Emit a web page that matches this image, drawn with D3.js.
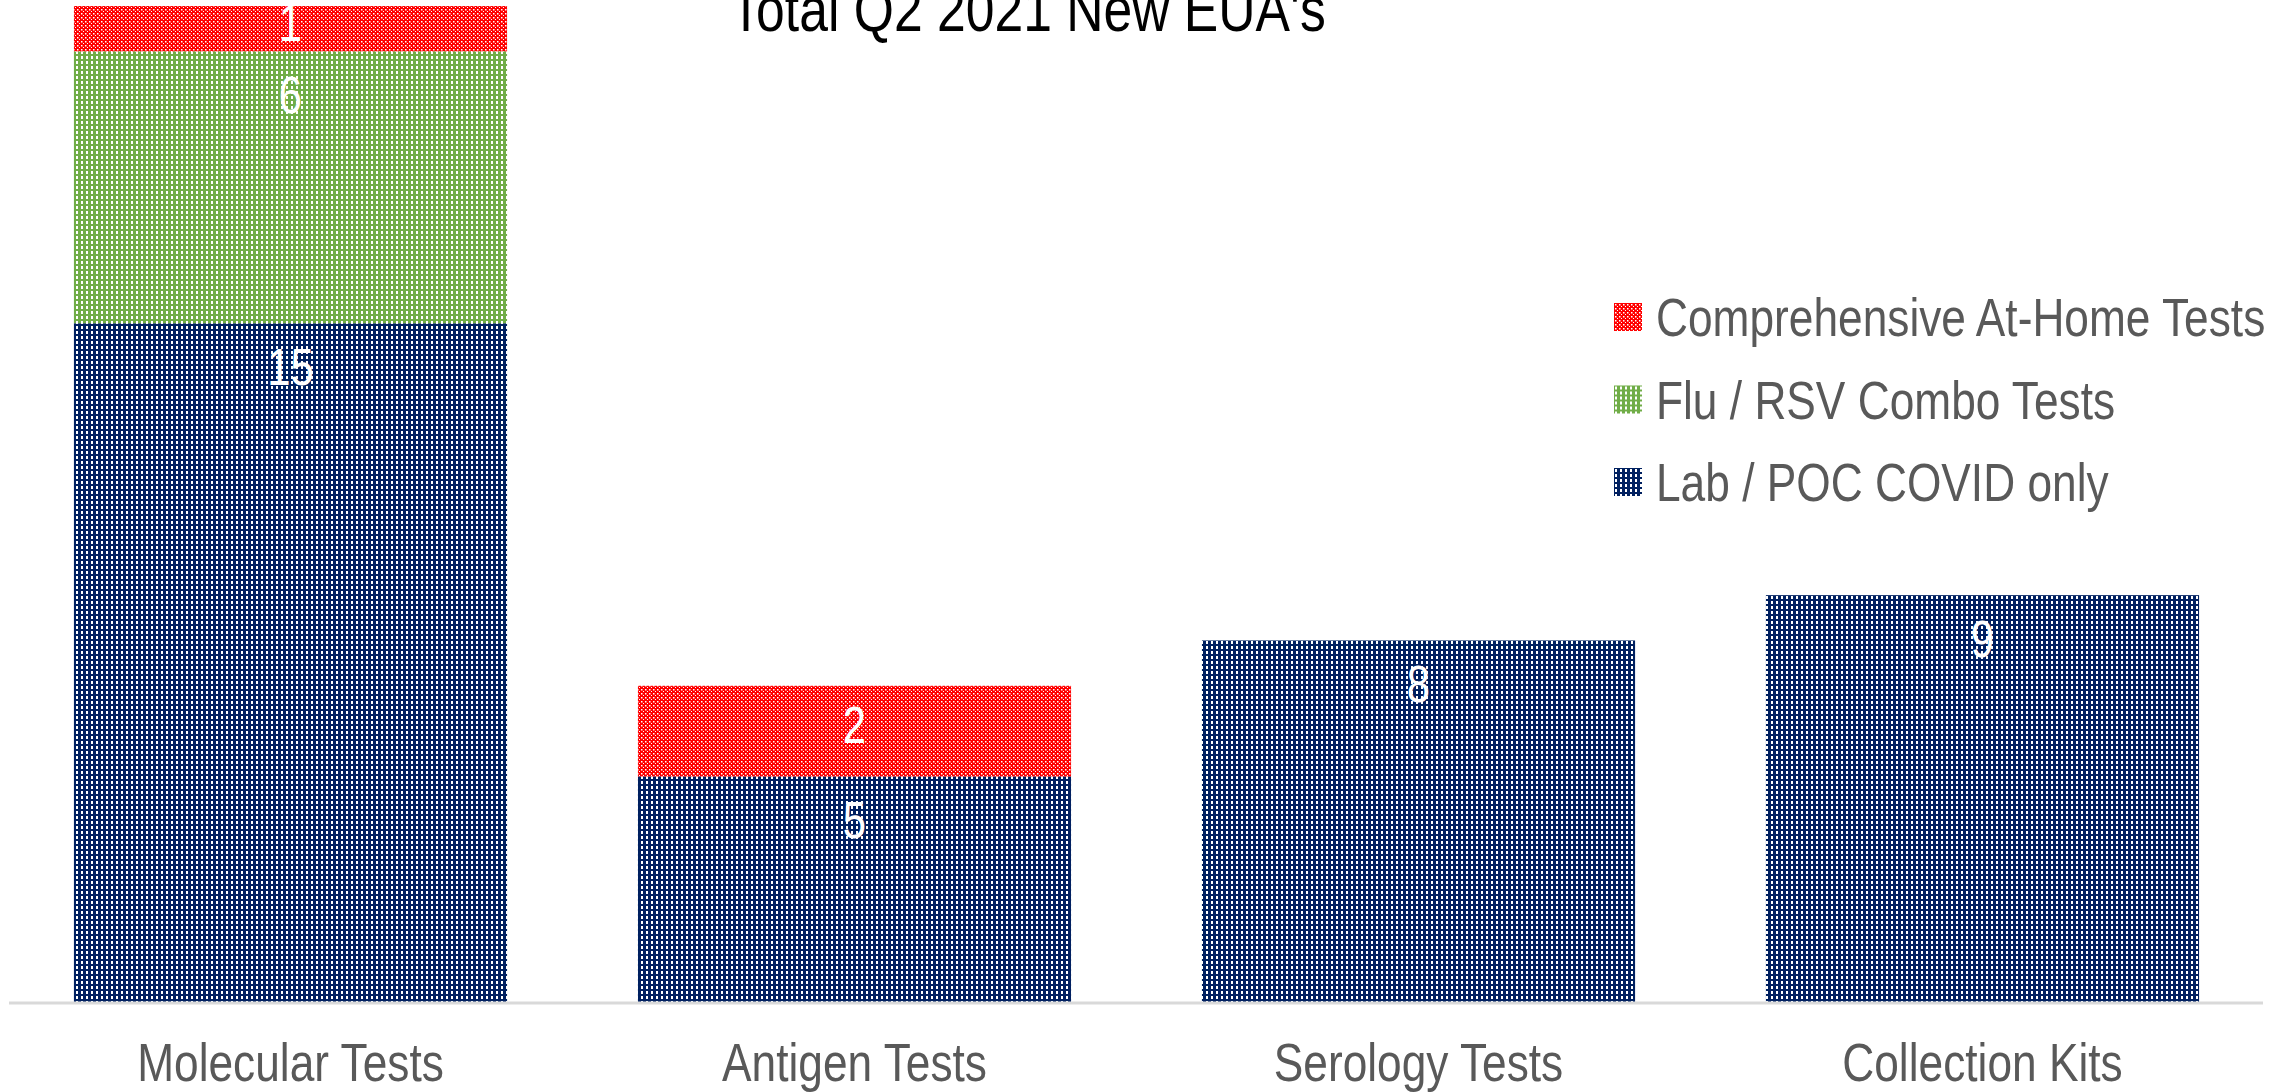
<!DOCTYPE html>
<html>
<head>
<meta charset="utf-8">
<script src="https://cdn.jsdelivr.net/npm/d3@7"></script>
<style>
  html, body { margin: 0; padding: 0; background: #fff; }
  svg { display: block; font-family: "Liberation Sans", Arial, sans-serif; }
</style>
</head>
<body>
<div id="chart"></div>
<script>
// chart data
const categories = ["Molecular Tests", "Antigen Tests", "Serology Tests", "Collection Kits"];
const labPoc = [15, 5, 8, 9];
const fluRsv = [6, 0, 0, 0];
const atHome = [1, 2, 0, 0];
const seriesKeys = ["labPoc", "fluRsv", "atHome"];
const seriesNames = ["Lab / POC COVID only", "Flu / RSV Combo Tests", "Comprehensive At-Home Tests"];
const titleText = "Total Q2 2021 New EUA's";

const width = 2292, height = 1092;
const squeeze = 0.82; // text in the picture is narrow

const svg = d3.select("#chart")
    .append("svg")
    .attr("width", width)
    .attr("height", height);

// pattern fills
const defs = svg.append("defs");

function dotPattern(id, colour, size, dw, dh) {
    const p = defs.append("pattern")
        .attr("id", id)
        .attr("patternUnits", "userSpaceOnUse")
        .attr("width", size)
        .attr("height", size);
    p.append("rect").attr("width", size).attr("height", size).attr("fill", colour);
    p.append("rect").attr("x", 1).attr("y", 1).attr("width", dw).attr("height", dh).attr("fill", "#fff");
    return p;
}

dotPattern("pat-labPoc", "#002060", 5, 2, 3);
dotPattern("pat-fluRsv", "#70AD47", 5, 2, 3);
const red = dotPattern("pat-atHome", "#FF0000", 4, 1.5, 1.5);
red.append("rect").attr("x", 3).attr("y", 3).attr("width", 1).attr("height", 1).attr("fill", "#fff");

const table = categories.map((c, i) => ({
    category: c,
    labPoc: labPoc[i],
    fluRsv: fluRsv[i],
    atHome: atHome[i]
}));

const stacked = d3.stack().keys(seriesKeys)(table);

const x = d3.scaleBand()
    .domain(categories)
    .range([8.5, 2264.5])
    .paddingInner(0.232)
    .paddingOuter(0.116);

const y = d3.scaleLinear()
    .domain([0, 22])
    .range([1003, 6]);

// bars
const layers = svg.append("g")
    .selectAll("g")
    .data(stacked)
    .enter()
    .append("g")
    .attr("fill", d => `url(#pat-${d.key})`);

layers.selectAll("rect")
    .data(d => d.filter(s => s[1] > s[0]))
    .enter()
    .append("rect")
    .attr("x", d => x(d.data.category))
    .attr("y", d => y(d[1]))
    .attr("width", x.bandwidth())
    .attr("height", d => y(d[0]) - y(d[1]));

// value labels, near the top of each segment
layers.selectAll("text")
    .data(d => d.filter(s => s[1] > s[0]).map(s => ({ s: s, v: s[1] - s[0] })))
    .enter()
    .append("text")
    .attr("transform", d => {
        const top = y(d.s[1]);
        const h = y(d.s[0]) - top;
        const cx = x(d.s.data.category) + x.bandwidth() / 2;
        return `translate(${cx},${top + Math.min(62, h / 2 + 12)}) scale(${squeeze},1)`;
    })
    .attr("text-anchor", "middle")
    .attr("font-size", "51px")
    .attr("fill", "#fff")
    .text(d => d.v);

// axis
const axis = svg.append("g")
    .attr("transform", `translate(0,${y(0)})`)
    .call(d3.axisBottom(x).tickSize(0).tickPadding(0));

axis.select(".domain")
    .attr("d", "M9,0H2263")
    .attr("stroke", "#d9d9d9")
    .attr("stroke-width", 3);

axis.selectAll(".tick text")
    .attr("y", 0)
    .attr("dy", 0)
    .attr("transform", `translate(0,78) scale(${squeeze},1)`)
    .attr("font-size", "54px")
    .attr("font-family", "Liberation Sans, Arial, sans-serif")
    .attr("fill", "#595959");

// title
svg.append("text")
    .attr("transform", `translate(1028,31) scale(${squeeze},1)`)
    .attr("text-anchor", "middle")
    .attr("font-size", "63px")
    .attr("fill", "#000")
    .text(titleText);

// legend
const legend = svg.append("g")
    .attr("transform", "translate(1614,303)");

const legendOrder = [2, 1, 0];

legendOrder.forEach((k, i) => {
    const row = legend.append("g")
        .attr("transform", `translate(0,${i * 82.5})`);

    row.append("rect")
        .attr("width", 28)
        .attr("height", 28)
        .attr("fill", `url(#pat-${seriesKeys[k]})`);

    row.append("text")
        .attr("transform", `translate(42,33) scale(${squeeze},1)`)
        .attr("font-size", "54px")
        .attr("fill", "#595959")
        .text(seriesNames[k]);
});
</script>
</body>
</html>
